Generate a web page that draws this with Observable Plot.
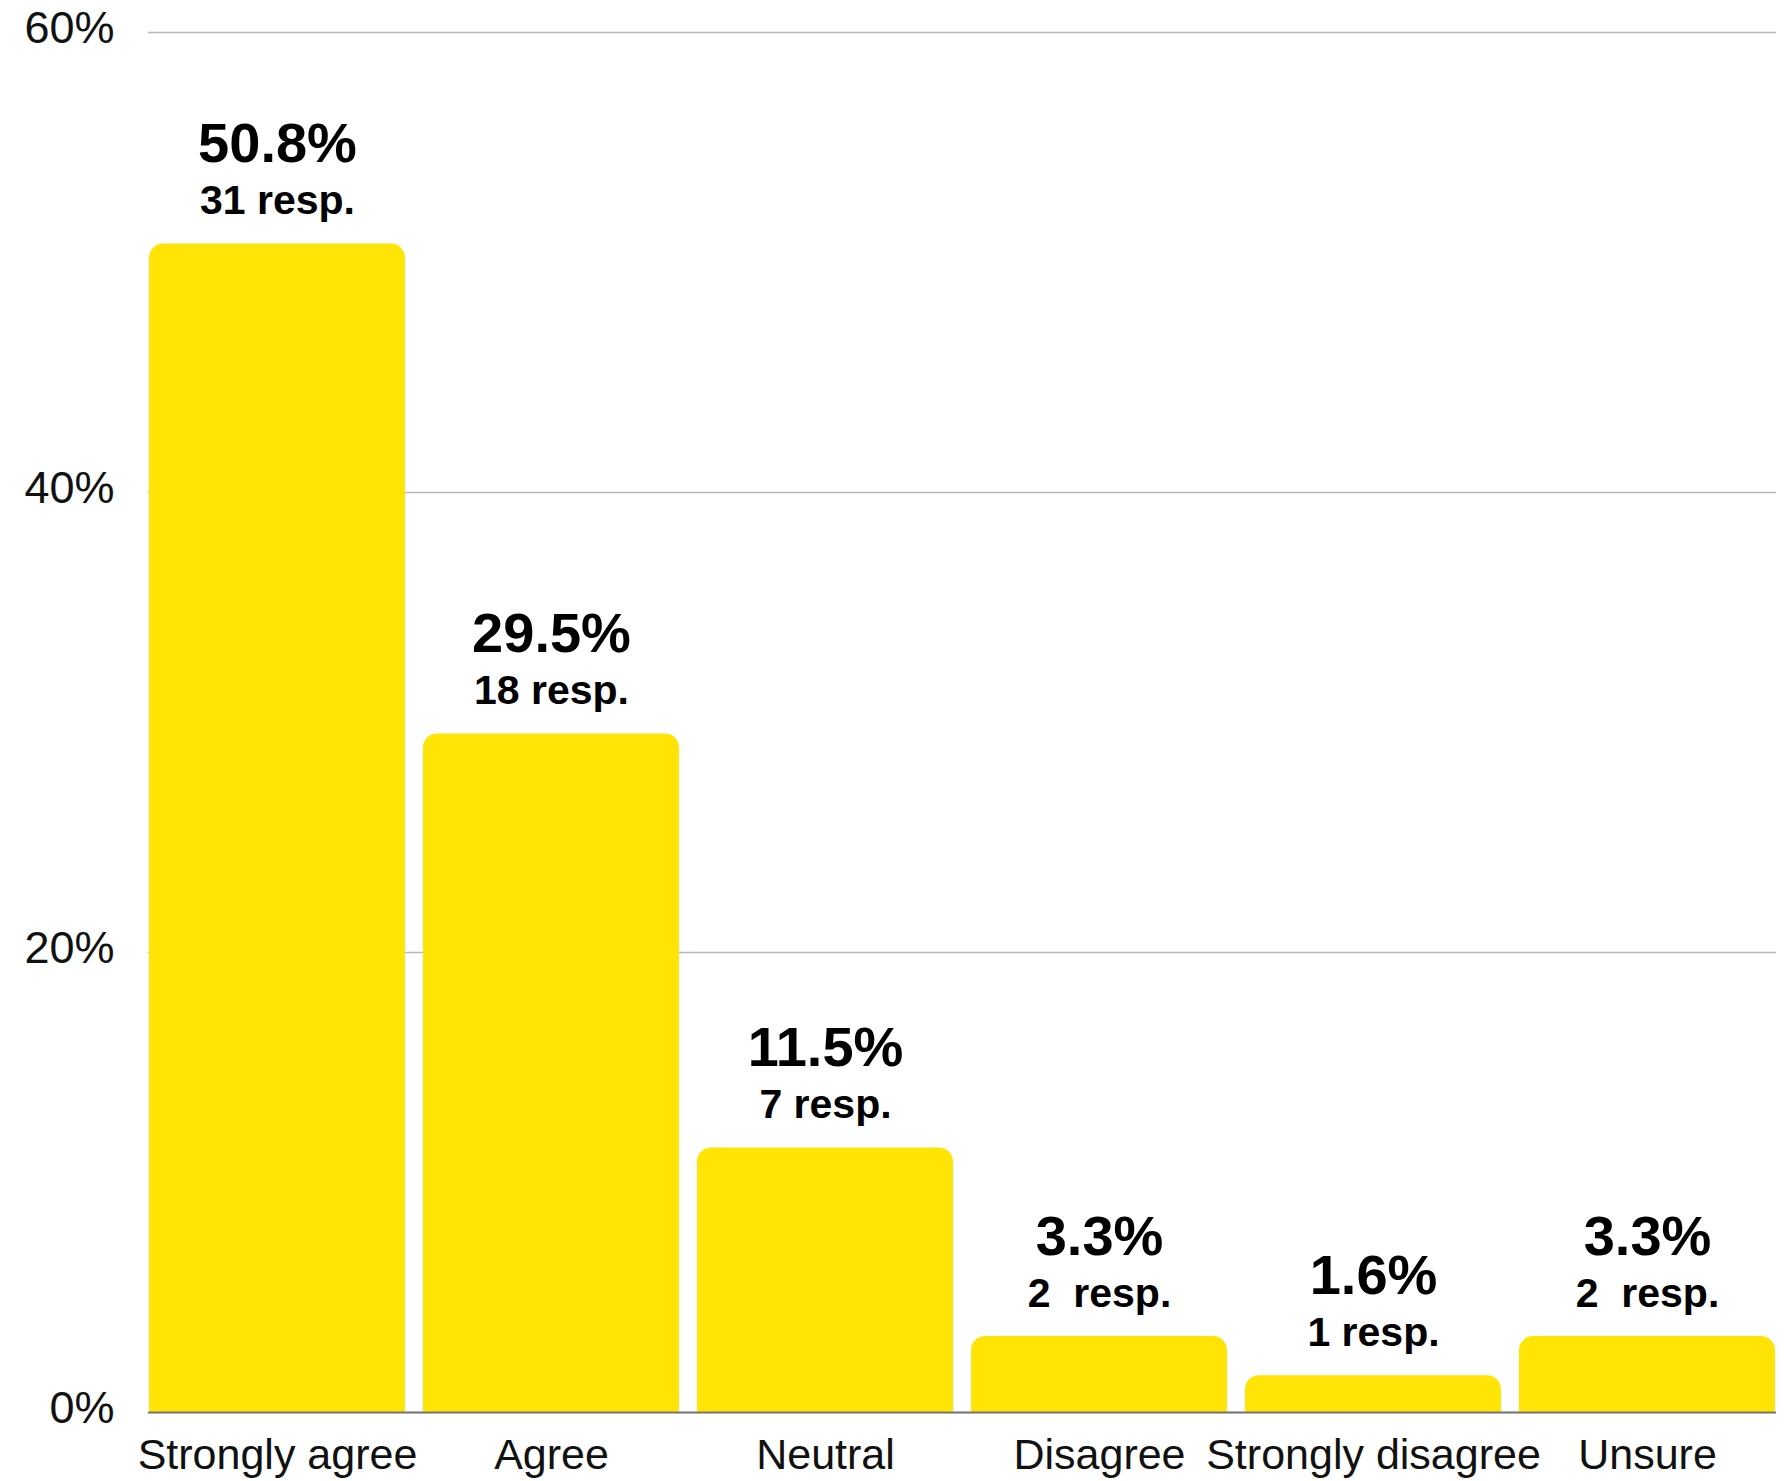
<!DOCTYPE html>
<html>
<head>
<meta charset="utf-8">
<script src="https://cdn.jsdelivr.net/npm/d3@7"></script>
<script src="https://cdn.jsdelivr.net/npm/@observablehq/plot@0.6"></script>
<style>
  html, body { margin: 0; padding: 0; background: #fff; }
  svg text { white-space: pre; }
</style>
</head>
<body>
<div id="chart"></div>
<script>
const categories = ["Strongly agree", "Agree", "Neutral", "Disagree", "Strongly disagree", "Unsure"];
const percents = [50.8, 29.5, 11.5, 3.3, 1.6, 3.3];
const respLabels = ["31 resp.", "18 resp.", "7 resp.", "2  resp.", "1 resp.", "2  resp."];
const yTicks = [0, 20, 40, 60];

const data = categories.map((c, i) => ({
  category: c,
  pct: percents[i],
  pctLabel: percents[i].toFixed(1) + "%",
  resp: respLabels[i]
}));

const font = "'Liberation Sans', Arial, Helvetica, sans-serif";

const chart = Plot.plot({
  width: 1790,
  height: 1481,
  marginTop: 32,
  marginBottom: 69,
  marginLeft: 148,
  marginRight: 14,
  style: { fontFamily: font, background: "#fff", color: "#111" },
  x: { domain: categories, paddingInner: 0.067, paddingOuter: 0, label: null },
  y: { domain: [0, 60], label: null },
  marks: [
    Plot.gridY(yTicks, { stroke: "#b9b9b9", strokeOpacity: 1, strokeWidth: 1.6 }),
    Plot.barY(data, { x: "category", y: "pct", fill: "#FFE405", ry1: 14, inset: 0 }),
    Plot.ruleY([0], { stroke: "#777", strokeWidth: 2 }),
    Plot.text(data, { x: "category", y: "pct", text: "pctLabel", lineAnchor: "bottom", dy: -82, fontSize: 56, fontWeight: "bold", fill: "#000" }),
    Plot.text(data, { x: "category", y: "pct", text: "resp", lineAnchor: "bottom", dy: -30, fontSize: 41, fontWeight: "bold", fill: "#000" }),
    Plot.axisY({ ticks: yTicks, tickFormat: d => d + "%", tickSize: 0, tickPadding: 34, fontSize: 45, dy: -4, label: null }),
    Plot.axisX({ tickSize: 0, tickPadding: 26, fontSize: 43, label: null })
  ]
});

document.getElementById("chart").appendChild(chart);
</script>
</body>
</html>
